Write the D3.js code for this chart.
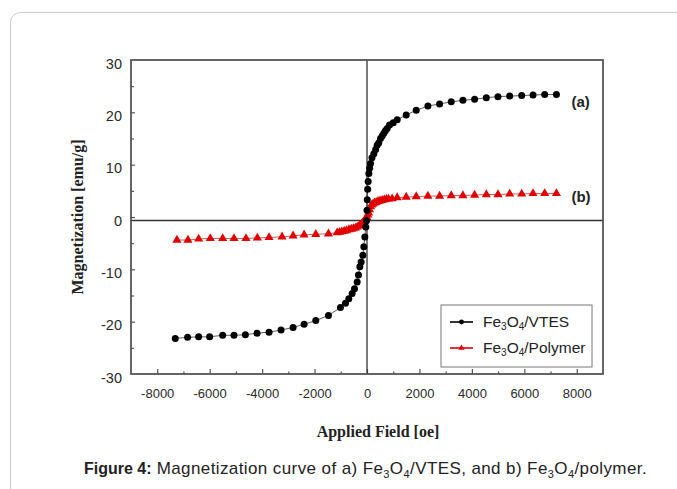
<!DOCTYPE html>
<html>
<head>
<meta charset="utf-8">
<script src="https://cdn.jsdelivr.net/npm/d3@7"></script>
<style>
body { margin: 0; background: #fff; }
svg { display: block; }
.tick text { font-family: "Liberation Sans", Arial, sans-serif; fill: #2a2a2a; }
.axis-title { font-family: "Liberation Serif", "Times New Roman", serif; font-weight: bold; font-size: 16px; fill: #222; }
</style>
</head>
<body>
<script>
// chart size and plot box
const W = 677, H = 489;
const PLOT = { left: 131, right: 603, top: 60, bottom: 374 };

// (a) Fe3O4/VTES - field [oe] and magnetization [emu/g]
const vtesField = [-7312, -6841, -6421, -6001, -5505, -5072, -4639, -4193, -3735, -3277, -2819, -2399, -1954, -1470,
    -1012, -821, -694, -566, -477, -375, -325, -274, -223, -159, -121, -83, -45, -19,
    0, 10, 25, 45, 70, 100, 134, 190, 261, 330, 388, 450, 515, 580, 643, 700, 770, 859, 1000, 1152,
    1495, 1877, 2322, 2768, 3213, 3658, 4104, 4550, 4995, 5441, 5900, 6331, 6777, 7223];
const vtesMag = [-23.2, -23.0, -22.9, -22.9, -22.6, -22.6, -22.5, -22.2, -22.0, -21.6, -21.1, -20.5, -19.8, -18.8,
    -17.3, -16.5, -15.6, -14.6, -13.7, -12.4, -11.1, -9.5, -8.6, -7.3, -5.7, -3.8, -1.9, -0.7,
    1.3, 3.3, 5.3, 6.8, 8.3, 9.3, 10.2, 11.3, 12.1, 12.9, 13.7, 14.2, 15.0, 15.5, 16.0, 16.5, 16.9, 17.6, 18.0, 18.6,
    19.5, 20.4, 21.2, 21.6, 22.0, 22.3, 22.5, 22.8, 23.0, 23.1, 23.2, 23.3, 23.4, 23.4];

// (b) Fe3O4/Polymer
const polyField = [-7248, -6828, -6421, -5976, -5505, -5072, -4614, -4181, -3735, -3239, -2819, -2399, -1954, -1470,
    -1139, -1050, -960, -870, -780, -690, -600, -520, -440, -370, -300, -250, -200, -160, -120, -80, -40,
    0, 30, 60, 95, 134, 180, 230, 290, 350, 420, 500, 580, 660, 740, 820,
    960, 1152, 1495, 1877, 2322, 2768, 3213, 3658, 4104, 4550, 4995, 5441, 5900, 6331, 6777, 7223];
const polyMag = [-4.4, -4.4, -4.2, -4.1, -4.1, -4.1, -4.1, -4.0, -3.9, -3.8, -3.6, -3.4, -3.3, -3.2,
    -3.0, -2.9, -2.8, -2.7, -2.6, -2.4, -2.3, -2.2, -2.1, -1.9, -1.7, -1.5, -1.3, -1.1, -0.9, -0.6, -0.3,
    -0.1, 0.4, 0.8, 1.4, 2.0, 2.3, 2.5, 2.7, 2.8, 3.0, 3.1, 3.2, 3.3, 3.4, 3.45,
    3.5, 3.7, 3.8, 3.9, 4.0, 4.0, 4.1, 4.1, 4.2, 4.3, 4.3, 4.4, 4.4, 4.5, 4.5, 4.5];

// ticks
const xTicks = [-8000, -6000, -4000, -2000, 0, 2000, 4000, 6000, 8000];
const xMinorTicks = [-7000, -5000, -3000, -1000, 1000, 3000, 5000, 7000];
const yTicks = [-30, -20, -10, 0, 10, 20, 30];
const yMinorTicks = [-25, -15, -5, 5, 15, 25];
const crossY = -0.67;   // the drawn horizontal cross line sits a hair under zero

const vtes = vtesField.map((f, i) => ({ f, m: vtesMag[i] }));
const poly = polyField.map((f, i) => ({ f, m: polyMag[i] }));

const svg = d3.select('body').append('svg')
    .attr('width', W)
    .attr('height', H);

// card border
svg.append('rect')
    .attr('x', 10.5).attr('y', 12.5)
    .attr('width', 720).attr('height', 520)
    .attr('rx', 10)
    .attr('fill', 'none')
    .attr('stroke', '#c9c9c9');

const x = d3.scaleLinear().domain([-9000, 9000]).range([PLOT.left, PLOT.right]);
const y = d3.scaleLinear().domain([-30, 30]).range([PLOT.bottom, PLOT.top]);

const plain = d => String(d);   // keep "-8000", no thousands comma

// tick labels
svg.append('g')
    .attr('transform', `translate(0,${PLOT.bottom})`)
    .call(d3.axisBottom(x).tickValues(xTicks).tickFormat(plain).tickSize(0).tickPadding(14.5))
    .call(g => g.select('.domain').remove())
    .call(g => g.selectAll('text').attr('font-size', 13));

svg.append('g')
    .attr('transform', `translate(${PLOT.left},0)`)
    .call(d3.axisLeft(y).tickValues(yTicks).tickFormat(plain).tickSize(0).tickPadding(9))
    .call(g => g.select('.domain').remove())
    .call(g => g.selectAll('text').attr('font-size', 14.5).attr('dy', '0.56em'));

// inward tick marks
const markAxis = (axis, values, size) => axis.tickValues(values).tickSize(size).tickFormat('');
svg.append('g').attr('transform', `translate(0,${PLOT.bottom})`)
    .call(markAxis(d3.axisTop(x), xTicks, 5));
svg.append('g').attr('transform', `translate(0,${PLOT.bottom})`)
    .call(markAxis(d3.axisTop(x), xMinorTicks, 2.5));
svg.append('g').attr('transform', `translate(${PLOT.left},0)`)
    .call(markAxis(d3.axisRight(y), yTicks.filter(v => v > -30 && v < 30), 4));
svg.append('g').attr('transform', `translate(${PLOT.left},0)`)
    .call(markAxis(d3.axisRight(y), yMinorTicks, 3));
svg.selectAll('.domain').remove();
svg.selectAll('.tick line').attr('stroke', '#555').attr('stroke-width', 1.2);

// cross lines
svg.append('line')
    .attr('x1', x(0)).attr('x2', x(0))
    .attr('y1', PLOT.top).attr('y2', PLOT.bottom)
    .attr('stroke', '#333').attr('stroke-width', 1.3);
svg.append('line')
    .attr('x1', PLOT.left).attr('x2', PLOT.right)
    .attr('y1', y(crossY)).attr('y2', y(crossY))
    .attr('stroke', '#333').attr('stroke-width', 1.3);

// frame
svg.append('rect')
    .attr('x', PLOT.left).attr('y', PLOT.top)
    .attr('width', PLOT.right - PLOT.left).attr('height', PLOT.bottom - PLOT.top)
    .attr('fill', 'none')
    .attr('stroke', '#555').attr('stroke-width', 1.8);

const line = d3.line().x(d => x(d.f)).y(d => y(d.m));

// polymer (red triangles)
svg.append('path').datum(poly)
    .attr('d', line).attr('fill', 'none')
    .attr('stroke', '#b33').attr('stroke-width', 0.8);
const tri = d3.symbol().type(d3.symbolTriangle).size(36);
svg.append('g').selectAll('path')
    .data(poly).join('path')
    .attr('transform', d => `translate(${x(d.f)},${y(d.m)})`)
    .attr('d', tri)
    .attr('fill', '#e00000');

// VTES (black dots)
svg.append('path').datum(vtes)
    .attr('d', line).attr('fill', 'none')
    .attr('stroke', '#333').attr('stroke-width', 0.8);
svg.append('g').selectAll('circle')
    .data(vtes).join('circle')
    .attr('cx', d => x(d.f)).attr('cy', d => y(d.m))
    .attr('r', 3.5)
    .attr('fill', '#000');

// (a) / (b) labels next to the last points
const lastV = vtes[vtes.length - 1], lastP = poly[poly.length - 1];
svg.append('text')
    .attr('x', x(lastV.f) + 15).attr('y', y(lastV.m) + 12)
    .attr('font-family', '"Liberation Sans", Arial, sans-serif')
    .attr('font-weight', 'bold').attr('font-size', 15).attr('fill', '#222')
    .text('(a)');
svg.append('text')
    .attr('x', x(lastP.f) + 15).attr('y', y(lastP.m) + 9)
    .attr('font-family', '"Liberation Sans", Arial, sans-serif')
    .attr('font-weight', 'bold').attr('font-size', 15).attr('fill', '#222')
    .text('(b)');

// text with chemical subscripts, "Fe_3O_4" style
function chem(textSel, str, subSize, shift) {
    let down = false;
    str.split(/(_\d)/).forEach(t => {
        if (!t) return;
        if (t[0] === '_') {
            textSel.append('tspan').attr('dy', down ? 0 : shift).attr('font-size', subSize).text(t.slice(1));
            down = true;
        } else {
            textSel.append('tspan').attr('dy', down ? -shift : 0).text(t);
            down = false;
        }
    });
}

// legend
const legend = svg.append('g').attr('transform', 'translate(441,305)');
legend.append('rect')
    .attr('width', 151).attr('height', 62)
    .attr('fill', '#fff').attr('stroke', '#777').attr('stroke-width', 1);
const legendItems = [
    { label: 'Fe_3O_4/VTES', color: '#000', shape: 'dot' },
    { label: 'Fe_3O_4/Polymer', color: '#e00000', shape: 'tri' }
];
legendItems.forEach((it, i) => {
    const g = legend.append('g').attr('transform', `translate(0,${17 + i * 26})`);
    g.append('line').attr('x1', 9).attr('x2', 32).attr('stroke', it.color).attr('stroke-width', 1.6);
    if (it.shape === 'dot') {
        g.append('circle').attr('cx', 20.5).attr('r', 2.4).attr('fill', it.color);
    } else {
        g.append('path').attr('transform', 'translate(20.5,0)')
            .attr('d', d3.symbol().type(d3.symbolTriangle).size(16)).attr('fill', it.color);
    }
    const t = g.append('text')
        .attr('x', 42).attr('y', 5)
        .attr('font-family', '"Liberation Sans", Arial, sans-serif')
        .attr('font-size', 15.5).attr('fill', '#222');
    chem(t, it.label, 10, 3);
});

// axis titles
svg.append('text')
    .attr('class', 'axis-title')
    .attr('x', x(0) + 11).attr('y', 437)
    .attr('text-anchor', 'middle')
    .text('Applied Field [oe]');
svg.append('text')
    .attr('class', 'axis-title')
    .attr('transform', `translate(83,${y(0)}) rotate(-90)`)
    .attr('text-anchor', 'middle')
    .text('Magnetization [emu/g]');

// caption
const cap = svg.append('text')
    .attr('x', 84).attr('y', 474)
    .attr('font-family', '"Liberation Sans", Arial, sans-serif')
    .attr('font-size', 17).attr('fill', '#222');
cap.append('tspan').attr('font-weight', 'bold').attr('font-size', 16).text('Figure 4:');
const capRest = cap.append('tspan').attr('letter-spacing', 0.4);
chem(capRest, ' Magnetization curve of a) Fe_3O_4/VTES, and b) Fe_3O_4/polymer.', 11, 4);
</script>
</body>
</html>
